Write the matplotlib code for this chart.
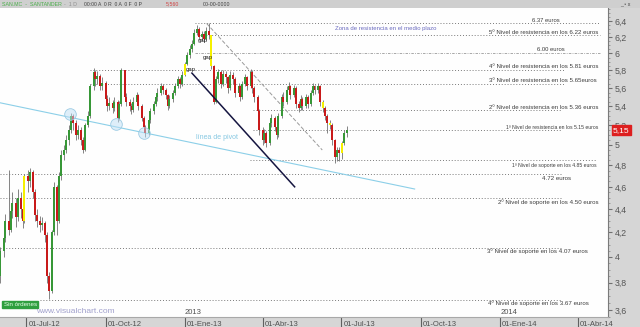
import numpy as np
import pandas as pd
import matplotlib
matplotlib.use('Agg')
import matplotlib.pyplot as plt
import matplotlib.transforms as mtransforms
from matplotlib.ticker import FixedLocator, NullFormatter
from matplotlib.patches import Rectangle

plt.rcParams['font.family'] = ['Liberation Sans', 'DejaVu Sans']

# SAN.MC - velas cada 2 sesiones
fechas = pd.date_range('2012-06-01', periods=144, freq='2B')
apertura_ini = 3.85
cierre = [4.05, 4.15, 4.30, 4.22, 4.38, 4.45, 4.33, 4.50, 4.40, 4.30,
          4.70, 4.65, 4.74, 4.55, 4.35, 4.30, 4.26, 4.28, 4.18, 3.85,
          3.74, 4.20, 4.60, 4.30, 4.70, 4.90, 4.95, 5.05, 5.15, 5.30,
          5.22, 5.10, 5.15, 5.05, 4.95, 5.20, 5.30, 5.62, 5.78, 5.70,
          5.74, 5.62, 5.66, 5.48, 5.40, 5.44, 5.38, 5.45, 5.28, 5.42,
          5.80, 5.50, 5.45, 5.40, 5.36, 5.45, 5.52, 5.40, 5.28, 5.18,
          5.12, 5.25, 5.35, 5.42, 5.50, 5.55, 5.62, 5.58, 5.52, 5.40,
          5.48, 5.55, 5.62, 5.70, 5.65, 5.75, 5.88, 5.98, 6.05, 6.12,
          6.25, 6.30, 6.20, 6.24, 6.18, 6.28, 6.22, 5.85, 5.45, 5.70,
          5.78, 5.65, 5.76, 5.72, 5.60, 5.75, 5.70, 5.55, 5.62, 5.50,
          5.65, 5.72, 5.62, 5.78, 5.60, 5.50, 5.35, 5.15, 5.05, 5.12,
          5.02, 5.22, 5.28, 5.18, 5.10, 5.30, 5.50, 5.45, 5.58, 5.62,
          5.52, 5.60, 5.42, 5.38, 5.48, 5.40, 5.50, 5.42, 5.55, 5.62,
          5.58, 5.62, 5.45, 5.38, 5.30, 5.22, 5.20, 5.05, 4.88, 4.95,
          4.92, 5.02, 5.12, 5.15]
maximo = [4.08, 4.20, 4.36, 4.76, 4.45, 4.55, 4.50, 4.58, 4.55, 4.45,
          4.72, 4.76, 4.78, 4.76, 4.58, 4.40, 4.34, 4.33, 4.30, 4.20,
          3.88, 4.22, 4.64, 4.62, 4.74, 4.95, 5.00, 5.10, 5.20, 5.33,
          5.32, 5.25, 5.20, 5.18, 5.08, 5.22, 5.35, 5.65, 5.83, 5.80,
          5.79, 5.76, 5.72, 5.68, 5.52, 5.50, 5.47, 5.50, 5.47, 5.46,
          5.83, 5.81, 5.55, 5.48, 5.44, 5.50, 5.56, 5.54, 5.42, 5.30,
          5.20, 5.28, 5.38, 5.46, 5.54, 5.60, 5.66, 5.65, 5.60, 5.54,
          5.52, 5.58, 5.66, 5.74, 5.73, 5.79, 5.90, 6.02, 6.10, 6.16,
          6.30, 6.35, 6.32, 6.28, 6.27, 6.33, 6.37, 6.22, 5.86, 5.74,
          5.82, 5.80, 5.80, 5.79, 5.74, 5.79, 5.78, 5.72, 5.66, 5.64,
          5.68, 5.76, 5.74, 5.82, 5.80, 5.62, 5.52, 5.37, 5.18, 5.16,
          5.14, 5.25, 5.32, 5.30, 5.20, 5.33, 5.54, 5.56, 5.62, 5.67,
          5.64, 5.64, 5.62, 5.46, 5.52, 5.50, 5.54, 5.52, 5.58, 5.66,
          5.64, 5.66, 5.64, 5.47, 5.40, 5.32, 5.26, 5.22, 5.06, 4.98,
          4.98, 5.04, 5.15, 5.19]
minimo = [3.80, 4.00, 4.12, 4.18, 4.20, 4.32, 4.25, 4.30, 4.32, 4.24,
          4.28, 4.55, 4.60, 4.50, 4.30, 4.25, 4.20, 4.22, 4.12, 3.80,
          3.68, 3.72, 4.18, 4.18, 4.28, 4.66, 4.85, 4.92, 5.00, 5.12,
          5.15, 5.05, 5.06, 5.00, 4.92, 4.94, 5.18, 5.28, 5.58, 5.62,
          5.65, 5.58, 5.58, 5.44, 5.35, 5.36, 5.33, 5.35, 5.23, 5.26,
          5.40, 5.46, 5.40, 5.35, 5.32, 5.34, 5.42, 5.36, 5.24, 5.14,
          5.08, 5.10, 5.22, 5.32, 5.40, 5.46, 5.52, 5.54, 5.48, 5.36,
          5.38, 5.45, 5.52, 5.60, 5.60, 5.62, 5.74, 5.86, 5.95, 6.02,
          6.10, 6.22, 6.16, 6.15, 6.14, 6.16, 6.18, 5.82, 5.42, 5.44,
          5.66, 5.60, 5.62, 5.66, 5.55, 5.58, 5.65, 5.50, 5.52, 5.46,
          5.48, 5.62, 5.58, 5.60, 5.55, 5.45, 5.30, 5.10, 5.00, 5.02,
          4.98, 5.00, 5.18, 5.14, 5.06, 5.08, 5.28, 5.40, 5.42, 5.55,
          5.48, 5.50, 5.38, 5.34, 5.36, 5.36, 5.38, 5.38, 5.40, 5.52,
          5.54, 5.55, 5.40, 5.34, 5.26, 5.12, 5.16, 5.00, 4.82, 4.84,
          4.84, 4.86, 5.00, 5.08]
velas_amarillas = [10, 76, 87, 133, 136, 141]

# niveles de soporte / resistencia
niveles = [6.37, 6.22, 6.00, 5.81, 5.65, 5.36, 5.15, 4.85, 4.72, 4.50, 4.07, 3.67]
niv_desde = [0.321, 0.329, 0.321, 0.148, 0.148, 0.416, 0.416, 0.411, 0.0, 0.0, 0.0, 0.066]
niv_hasta = [0.987, 0.987, 0.987, 0.93, 0.93, 0.925, 0.925, 0.982, 0.925, 0.925, 0.925, 0.925]

textos = ['6.37 euros',
          '5º Nivel de resistencia en los 6.22 euros',
          '6.00 euros',
          '4º Nivel de resistencia en los 5.81 euros',
          '3º Nivel de resistencia en los 5.65euros',
          '2º Nivel de resistencia en los 5.36 euros',
          '1º Nivel de resistencia en los 5.15 euros',
          '1º Nivel de soporte en los 4.85 euros',
          '4.72 euros',
          '2º Nivel de soporte en los 4.50 euros',
          '3º Nivel de soporte en los 4.07 euros',
          '4º Nivel de soporte en los 3.67 euros']
txt_y = [6.41, 6.26, 6.05, 5.85, 5.68, 5.39, 5.18, 4.80, 4.68, 4.46, 4.05, 3.65]
txt_x = [0.921, 0.984, 0.929, 0.984, 0.982, 0.984, 0.984, 0.982, 0.939, 0.984, 0.967, 0.969]
txt_size = [4.2, 4.4, 4.2, 4.4, 4.4, 4.4, 3.7, 3.7, 4.4, 4.4, 4.4, 4.4]

# lineas de tendencia (fecha, precio)
pivot = (['2012-05-31', '2013-09-24'], [5.44, 4.58])
bajista = (['2013-01-09', '2013-05-08'], [5.77, 4.60])
canal = (['2013-01-26', '2013-06-09'], [6.37, 4.95])
toques = (['2012-08-21', '2012-10-13', '2012-11-14'], [5.32, 5.21, 5.12])
gaps = (['2013-01-21', '2013-01-27', '2013-01-08'], [6.16, 5.95, 5.81])

yticks = [3.6, 3.8, 4.0, 4.2, 4.4, 4.6, 4.8, 5.0, 5.2, 5.4, 5.6, 5.8, 6.0, 6.2, 6.4]
ytick_labels = ['3,6', '3,8', '4', '4,2', '4,4', '4,6', '4,8', '5', '5,2', '5,4',
                '5,6', '5,8', '6', '6,2', '6,4']
xticks = ['2012-07-01', '2012-10-01', '2013-01-01', '2013-04-01',
          '2013-07-01', '2013-10-01', '2014-01-01', '2014-04-01']
xtick_labels = ['01-Jul-12', '01-Oct-12', '01-Ene-13', '01-Abr-13',
                '01-Jul-13', '01-Oct-13', '01-Ene-14', '01-Abr-14']

fig = plt.figure(figsize=(6.4, 3.27), dpi=100)
fig.patch.set_facecolor('#d6d6d6')
ax = fig.add_axes([0, 10 / 327, 608 / 640, 309 / 327])
ax.set_facecolor('#fefefe')
ax.set_yscale('log')
ax.set_ylim(3.549, 6.569)
ax.set_xlim(pd.Timestamp('2012-05-31 16:00'), pd.Timestamp('2014-05-06'))

# velas
apertura = [apertura_ini] + cierre[:-1]
o = np.array(apertura)
c = np.array(cierre)
colores = np.where(c >= o, '#379737', '#c81a1a').astype(object)
for i in velas_amarillas:
    colores[i] = '#f5f000'
ax.vlines(fechas, minimo, maximo, color='#707070', lw=0.6, zorder=3)
alto = np.maximum(np.abs(c - o), 0.006)
ax.bar(fechas, alto, bottom=np.minimum(o, c), width=2.3, color=list(colores),
       lw=0, zorder=4)

# niveles
yax = ax.get_yaxis_transform()
for p, a, b in zip(niveles, niv_desde, niv_hasta):
    if p == 6.00:
        ax.axhline(p, a, b, color='#9a9a9a', lw=0.6, ls=(0, (3, 1.5, 1, 1.5)), zorder=2)
    else:
        ax.axhline(p, a, b, color='#7a7a7a', lw=0.7, ls=(0, (1, 2)), zorder=2)
for t, x, y, s in zip(textos, txt_x, txt_y, txt_size):
    ax.text(x, y, t, transform=yax, ha='right', va='center', fontsize=s,
            color='#3c3c3c', zorder=6)
ax.text(0.551, 6.30, 'Zona de resistencia en el medio plazo', transform=yax,
        ha='left', va='center', fontsize=4.3, color='#6b6bc0')

# lineas de tendencia
ax.plot(pd.to_datetime(pivot[0]), pivot[1], color='#8ccfe8', lw=0.8, zorder=2)
ax.plot(pd.to_datetime(bajista[0]), bajista[1], color='#151540', lw=1.1, zorder=5)
ax.plot(pd.to_datetime(canal[0]), canal[1], color='#9a9a9a', lw=0.7,
        ls=(0, (4, 2)), zorder=2)
ax.scatter(pd.to_datetime(toques[0]), toques[1], s=70, facecolor=(0.75, 0.88, 0.96, 0.5),
           edgecolor='#9ccbe4', lw=0.6, zorder=6)
ax.text(pd.Timestamp('2013-01-14'), 5.07, 'línea de pivot', fontsize=5,
        color='#86c8e2', ha='left', va='center')
for d, p in zip(pd.to_datetime(gaps[0]), gaps[1]):
    ax.text(d, p, 'gap', fontsize=4.3, color='#202020', ha='center', va='center', zorder=7)

# ejes
for s in ['left', 'top']:
    ax.spines[s].set_visible(False)
ax.spines['right'].set_color('#7a7a7a')
ax.spines['bottom'].set_color('#a8a8a8')
ax.yaxis.tick_right()
ax.yaxis.set_major_locator(FixedLocator(yticks))
ax.yaxis.set_minor_locator(FixedLocator(np.arange(3.55, 6.56, 0.05)))
ax.yaxis.set_minor_formatter(NullFormatter())
ax.set_yticklabels(ytick_labels)
ax.tick_params(axis='y', which='major', labelsize=6.3, labelcolor='#555555',
               color='#707070', length=3, pad=2)
ax.tick_params(axis='y', which='minor', color='#909090', length=1.5)
ax.set_xticks(pd.to_datetime(xticks))
ax.set_xticklabels(xtick_labels)
ax.tick_params(axis='x', labelsize=5.5, labelcolor='#505050', color='#606060',
               length=7, pad=-4)
off = mtransforms.ScaledTranslation(1.5 / 72, 0, fig.dpi_scale_trans)
for lbl in ax.get_xticklabels():
    lbl.set_ha('left')
    lbl.set_transform(lbl.get_transform() + off)
xax = ax.get_xaxis_transform()
for yr in ['2013', '2014']:
    ax.text(pd.Timestamp(yr + '-01-01'), 0.004, yr, transform=xax, fontsize=5.5,
            color='#505050', ha='left', va='bottom')

# precio actual
ax.text(1.008, cierre[-1], '5,15', transform=yax, fontsize=6, color='white',
        ha='left', va='center', clip_on=False, zorder=8,
        bbox=dict(boxstyle='square,pad=0.15', fc='#dd1f1f', ec='#dd1f1f'))

# cabecera y marca de agua
fig.patches.append(Rectangle((0, 319 / 327), 1, 8 / 327, transform=fig.transFigure,
                             fc='#cfcfcf', ec='none'))
cab_y = 0.987
fig.text(2 / 640, cab_y, 'SAN.MC  -  SANTANDER', fontsize=3.8, color='#4caf4c', va='center')
fig.text(64 / 640, cab_y, '-  1 D', fontsize=3.8, color='#909090', va='center')
fig.text(84 / 640, cab_y, '00:00 A  0 R  0 A  0 F  0 P', fontsize=3.6,
         color='#404040', va='center')
fig.text(166 / 640, cab_y, '5,560', fontsize=3.8, color='#d04040', va='center')
fig.text(203 / 640, cab_y, '00-00-0000', fontsize=3.8, color='#404040', va='center')
fig.text(620 / 640, cab_y, '_ ▫ x', fontsize=3.8, color='#404040', va='center')
ax.text(0.006, 3.64, 'Sin órdenes', transform=yax, fontsize=4.5, color='#e8ffe8',
        va='center', bbox=dict(boxstyle='square,pad=0.2', fc='#2f9f3f', ec='#2f9f3f'))
ax.text(0.06, 3.585, 'www.visualchart.com', transform=yax, fontsize=6,
        color='#a0a0cc', va='center')

fig.savefig('out.png', dpi=100, facecolor=fig.get_facecolor())
